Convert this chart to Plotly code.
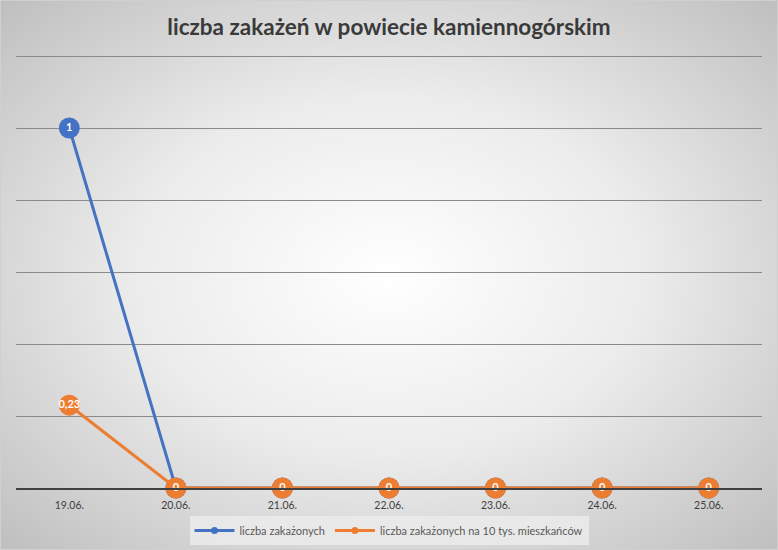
import base64
import plotly.graph_objects as go

dates = ["19.06.", "20.06.", "21.06.", "22.06.", "23.06.", "24.06.", "25.06."]
infected = [1, 0, 0, 0, 0, 0, 0]
per_10k = [0.23, 0, 0, 0, 0, 0, 0]
series_names = ["liczba zakażonych", "liczba zakażonych na 10 tys. mieszkańców"]
colors = ["#4472C4", "#ED7D31"]
title_text = "liczba zakażeń w powiecie kamiennogórskim"

W, H = 778, 550
L, R, T, B = 16, 16, 54, 62
pw, ph = W - L - R, H - T - B
y_max = ph / 360.0


def fmt(v):
    return ("%g" % v).replace(".", ",")


svg = (
    '<svg xmlns="http://www.w3.org/2000/svg" width="778" height="550" viewBox="0 0 778 550" preserveAspectRatio="none">'
    '<defs><radialGradient id="g" cx="50%" cy="50%" r="72%">'
    '<stop offset="0" stop-color="#ffffff"/><stop offset="0.45" stop-color="#ececec"/>'
    '<stop offset="1" stop-color="#bdbdbd"/></radialGradient></defs>'
    '<rect x="0" y="0" width="778" height="550" fill="url(#g)"/>'
    '<rect x="0.5" y="0.5" width="777" height="549" fill="none" stroke="#d0d0d0"/>'
    '</svg>'
)
src = "data:image/svg+xml;base64," + base64.b64encode(svg.encode()).decode()

fig = go.Figure()
for name, vals, col in zip(series_names, [infected, per_10k], colors):
    fig.add_trace(go.Scatter(
        x=dates, y=vals, name=name, mode="lines+markers+text", showlegend=False,
        line=dict(color=col, width=3),
        marker=dict(color=col, size=21, line=dict(width=0)),
        text=[fmt(v) for v in vals], textposition="middle center",
        textfont=dict(color="white", size=11, family="Lato", weight="bold"),
        cliponaxis=False,
    ))
for name, col in zip(series_names, colors):
    fig.add_trace(go.Scatter(
        x=[None], y=[None], name=name, mode="lines+markers",
        line=dict(color=col, width=3), marker=dict(color=col, size=7),
    ))

fig.update_layout(
    width=W, height=H,
    margin=dict(l=L, r=R, t=T, b=B, autoexpand=False),
    paper_bgcolor="white",
    plot_bgcolor="rgba(0,0,0,0)",
    images=[dict(source=src, xref="paper", yref="paper",
                 x=-L / pw, y=1 + T / ph, sizex=W / pw, sizey=H / ph,
                 xanchor="left", yanchor="top", sizing="stretch", layer="below")],
    title=dict(text=title_text, x=0.5, xanchor="center", y=1 - 27 / H, yanchor="middle",
               font=dict(family="Lato", size=22.5, color="#3a3a3a", weight="bold")),
    xaxis=dict(type="category", range=[-0.5, 6.5], showgrid=False, zeroline=False,
               showline=True, linecolor="#404040", linewidth=2, automargin=False,
               ticks="", ticklabelstandoff=6,
               tickfont=dict(family="Lato", size=10.5, color="#404040")),
    yaxis=dict(range=[0, y_max], tick0=0, dtick=0.2, showticklabels=False, showgrid=True,
               gridcolor="#8a8a8a", gridwidth=1, zeroline=False, showline=False,
               automargin=False),
    legend=dict(orientation="h", x=0.5, xanchor="center", y=-(516 - 488) / ph, yanchor="top",
                bgcolor="rgba(235,235,235,0.85)", font=dict(family="Lato", size=11, color="#595959"),
                itemwidth=40, tracegroupgap=0),
    showlegend=True,
)

fig.write_html("out.html", config={"displayModeBar": False},
               post_script="document.body.style.margin='0';document.body.style.overflow='hidden';")
